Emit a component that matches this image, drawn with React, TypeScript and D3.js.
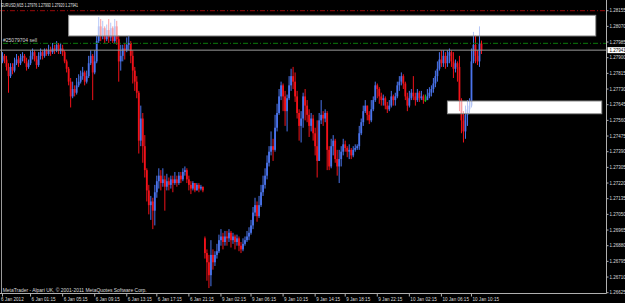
import React from "react";
import * as d3 from "d3";

// M15 bars (EURUSD), open = previous close except where listed in gapOpens
const closes = [
  1.2791, 1.2789, 1.2785, 1.2780, 1.2785, 1.2783, 1.2787, 1.2789, 1.2787, 1.2790,
  1.2791, 1.2788, 1.2785, 1.2787, 1.2791, 1.2793, 1.2789, 1.2786, 1.2791, 1.2793,
  1.2791, 1.2794, 1.2792, 1.2794, 1.2793, 1.2795, 1.2794, 1.2797, 1.2794, 1.2795,
  1.2793, 1.2788, 1.2784, 1.2777, 1.2769, 1.2773, 1.2771, 1.2775, 1.2777, 1.2780,
  1.2782, 1.2777, 1.2780, 1.2787, 1.2791, 1.2782, 1.2788, 1.2799, 1.2807, 1.2802,
  1.2806, 1.2800, 1.2805, 1.2801, 1.2806, 1.2799, 1.2807, 1.2800, 1.2788, 1.2791,
  1.2795, 1.2794, 1.2797, 1.2798, 1.2791, 1.2783, 1.2777, 1.2771, 1.2745, 1.2757,
  1.2742, 1.2729, 1.2718, 1.2710, 1.2712, 1.2707, 1.2717, 1.2723, 1.2726, 1.2722,
  1.2724, 1.2720, 1.2723, 1.2721, 1.2724, 1.2722, 1.2724, 1.2722, 1.2726, 1.2724,
  1.2728, 1.2729, 1.2724, 1.2721, 1.2719, 1.2722, 1.2718, 1.2721, 1.2719, 1.2720,
  1.2718, 1.2684, 1.2679, 1.2672, 1.2683, 1.2679, 1.2683, 1.2685, 1.2691, 1.2693,
  1.2690, 1.2693, 1.2692, 1.2695, 1.2691, 1.2693, 1.2690, 1.2692, 1.2688, 1.2686,
  1.2689, 1.2691, 1.2693, 1.2695, 1.2699, 1.2706, 1.2710, 1.2704, 1.2710, 1.2717,
  1.2721, 1.2726, 1.2733, 1.2739, 1.2742, 1.2740, 1.2752, 1.2760, 1.2769, 1.2775,
  1.2769, 1.2761, 1.2768, 1.2775, 1.2780, 1.2777, 1.2769, 1.2760, 1.2753, 1.2757,
  1.2769, 1.2764, 1.2759, 1.2753, 1.2757, 1.2749, 1.2742, 1.2734, 1.2756, 1.2759,
  1.2757, 1.2760, 1.2740, 1.2731, 1.2742, 1.2745, 1.2735, 1.2731, 1.2735, 1.2739,
  1.2743, 1.2741, 1.2739, 1.2740, 1.2737, 1.2740, 1.2741, 1.2742, 1.2749, 1.2755,
  1.2761, 1.2764, 1.2759, 1.2756, 1.2762, 1.2767, 1.2775, 1.2773, 1.2769, 1.2767,
  1.2768, 1.2764, 1.2762, 1.2764, 1.2769, 1.2767, 1.2769, 1.2775, 1.2777, 1.2780,
  1.2776, 1.2769, 1.2764, 1.2768, 1.2771, 1.2769, 1.2767, 1.2771, 1.2768, 1.2769,
  1.2767, 1.2767, 1.2769, 1.2771, 1.2773, 1.2776, 1.2780, 1.2784, 1.2789, 1.2787,
  1.2791, 1.2787, 1.2791, 1.2793, 1.2788, 1.2784, 1.2787, 1.2785, 1.2767, 1.2756,
  1.2750, 1.2759, 1.2762, 1.2764, 1.2788, 1.2797, 1.2791, 1.2788, 1.27976, 1.27941,
];

const highs = [
  1.2793, 1.2792, 1.2791, 1.2787, 1.2787, 1.2787, 1.2790, 1.2792, 1.2791, 1.2792,
  1.2793, 1.2792, 1.2790, 1.2789, 1.2794, 1.2795, 1.2794, 1.2791, 1.2793, 1.2795,
  1.2794, 1.2795, 1.2795, 1.2797, 1.2796, 1.2798, 1.2797, 1.2799, 1.2798, 1.2798,
  1.2797, 1.2794, 1.2789, 1.2785, 1.2779, 1.2777, 1.2775, 1.2779, 1.2781, 1.2783,
  1.2785, 1.2783, 1.2783, 1.2791, 1.2794, 1.2792, 1.2794, 1.2802, 1.2812, 1.2811,
  1.2810, 1.2807, 1.2808, 1.2811, 1.2809, 1.2807, 1.2811, 1.2810, 1.2802, 1.2797,
  1.2797, 1.2798, 1.2801, 1.2802, 1.2799, 1.2794, 1.2785, 1.2780, 1.2772, 1.2764,
  1.2760, 1.2748, 1.2730, 1.2721, 1.2715, 1.2714, 1.2721, 1.2726, 1.2730, 1.2729,
  1.2730, 1.2726, 1.2727, 1.2725, 1.2726, 1.2726, 1.2728, 1.2726, 1.2728, 1.2728,
  1.2730, 1.2731, 1.2730, 1.2726, 1.2723, 1.2723, 1.2722, 1.2722, 1.2722, 1.2721,
  1.2720, 1.2693, 1.2686, 1.2683, 1.2691, 1.2686, 1.2685, 1.2689, 1.2694, 1.2697,
  1.2695, 1.2696, 1.2696, 1.2697, 1.2696, 1.2695, 1.2694, 1.2694, 1.2693, 1.2690,
  1.2692, 1.2693, 1.2696, 1.2698, 1.2702, 1.2709, 1.2714, 1.2712, 1.2715, 1.2721,
  1.2726, 1.2730, 1.2737, 1.2742, 1.2750, 1.2746, 1.2759, 1.2765, 1.2773, 1.2777,
  1.2776, 1.2772, 1.2770, 1.2780, 1.2784, 1.2785, 1.2782, 1.2772, 1.2762, 1.2761,
  1.2771, 1.2773, 1.2767, 1.2762, 1.2760, 1.2759, 1.2752, 1.2756, 1.2760, 1.2767,
  1.2761, 1.2762, 1.2761, 1.2742, 1.2746, 1.2748, 1.2746, 1.2740, 1.2740, 1.2742,
  1.2746, 1.2745, 1.2742, 1.2743, 1.2741, 1.2742, 1.2743, 1.2743, 1.2753, 1.2757,
  1.2764, 1.2767, 1.2763, 1.2761, 1.2767, 1.2769, 1.2777, 1.2776, 1.2774, 1.2771,
  1.2770, 1.2769, 1.2766, 1.2767, 1.2772, 1.2770, 1.2771, 1.2777, 1.2780, 1.2782,
  1.2781, 1.2777, 1.2771, 1.2772, 1.2773, 1.2780, 1.2771, 1.2773, 1.2772, 1.2772,
  1.2770, 1.2770, 1.2773, 1.2774, 1.2775, 1.2779, 1.2783, 1.2788, 1.2793, 1.2794,
  1.2794, 1.2793, 1.2794, 1.2795, 1.2794, 1.2793, 1.2789, 1.2788, 1.2791, 1.2768,
  1.2761, 1.2764, 1.2767, 1.2768, 1.2795, 1.2804, 1.2802, 1.2794, 1.2807, 1.27993,
];

const lows = [
  1.2787, 1.2787, 1.2783, 1.2771, 1.2779, 1.2781, 1.2782, 1.2786, 1.2785, 1.2786,
  1.2788, 1.2787, 1.2783, 1.2784, 1.2786, 1.2789, 1.2788, 1.2784, 1.2785, 1.2789,
  1.2789, 1.2790, 1.2791, 1.2791, 1.2791, 1.2792, 1.2792, 1.2793, 1.2792, 1.2792,
  1.2791, 1.2787, 1.2782, 1.2775, 1.2763, 1.2768, 1.2769, 1.2770, 1.2774, 1.2776,
  1.2778, 1.2775, 1.2776, 1.2779, 1.2786, 1.2767, 1.2781, 1.2787, 1.2798, 1.2799,
  1.2800, 1.2798, 1.2799, 1.2798, 1.2799, 1.2798, 1.2798, 1.2797, 1.2777, 1.2783,
  1.2788, 1.2789, 1.2793, 1.2794, 1.2787, 1.2776, 1.2772, 1.2768, 1.2738, 1.2742,
  1.2733, 1.2725, 1.2712, 1.2705, 1.2702, 1.2697, 1.2699, 1.2714, 1.2719, 1.2718,
  1.2720, 1.2707, 1.2718, 1.2718, 1.2719, 1.2717, 1.2721, 1.2720, 1.2721, 1.2722,
  1.2723, 1.2726, 1.2722, 1.2718, 1.2716, 1.2718, 1.2717, 1.2718, 1.2717, 1.2718,
  1.2717, 1.2681, 1.2669, 1.2665, 1.2666, 1.2675, 1.2677, 1.2681, 1.2684, 1.2688,
  1.2686, 1.2688, 1.2688, 1.2690, 1.2687, 1.2689, 1.2686, 1.2688, 1.2685, 1.2684,
  1.2685, 1.2688, 1.2690, 1.2691, 1.2694, 1.2697, 1.2704, 1.2701, 1.2703, 1.2709,
  1.2715, 1.2719, 1.2724, 1.2731, 1.2737, 1.2734, 1.2739, 1.2750, 1.2759, 1.2767,
  1.2761, 1.2753, 1.2750, 1.2767, 1.2772, 1.2773, 1.2766, 1.2757, 1.2745, 1.2744,
  1.2752, 1.2756, 1.2755, 1.2747, 1.2750, 1.2745, 1.2737, 1.2725, 1.2740, 1.2754,
  1.2753, 1.2755, 1.2729, 1.2729, 1.2730, 1.2737, 1.2733, 1.2726, 1.2722, 1.2731,
  1.2737, 1.2739, 1.2736, 1.2735, 1.2735, 1.2736, 1.2739, 1.2740, 1.2740, 1.2748,
  1.2753, 1.2760, 1.2756, 1.2754, 1.2755, 1.2761, 1.2766, 1.2768, 1.2765, 1.2764,
  1.2764, 1.2762, 1.2760, 1.2761, 1.2763, 1.2764, 1.2764, 1.2768, 1.2772, 1.2775,
  1.2773, 1.2767, 1.2761, 1.2763, 1.2767, 1.2767, 1.2764, 1.2766, 1.2766, 1.2767,
  1.2765, 1.2766, 1.2767, 1.2768, 1.2769, 1.2771, 1.2774, 1.2777, 1.2783, 1.2785,
  1.2785, 1.2784, 1.2785, 1.2787, 1.2785, 1.2779, 1.2782, 1.2777, 1.2761, 1.2749,
  1.2744, 1.2746, 1.2753, 1.2760, 1.2763, 1.2787, 1.2787, 1.2786, 1.2785, 1.27920,
];

// [bar index, open price] for bars whose open is not the previous close
const gapOpens: [number, number][] = [[0, 1.2788], [101, 1.2692]];

const priceTicks = [
  "1.28155", "1.28070", "1.27985", "1.27900", "1.27815", "1.27730", "1.27645",
  "1.27560", "1.27475", "1.27390", "1.27305", "1.27220", "1.27135", "1.27050",
  "1.26965", "1.26880", "1.26795", "1.26710", "1.26625",
];

const timeLabels = [
  "6 Jan 2012", "6 Jan 01:15", "6 Jan 05:15", "6 Jan 09:15", "6 Jan 13:15",
  "6 Jan 17:15", "6 Jan 21:15", "9 Jan 02:15", "9 Jan 06:15", "9 Jan 10:15",
  "9 Jan 14:15", "9 Jan 18:15", "9 Jan 22:15", "10 Jan 02:15", "10 Jan 06:15",
  "10 Jan 10:15",
];
const timeLabelBars = [0, 14, 30, 46, 62, 77, 93, 109, 124, 140, 156, 171, 187, 203, 219, 234];

const titleText = "EURUSD,M15  1.27976 1.27993 1.27920 1.27941";
const orderText = "#25079704 sell";
const copyrightText = "MetaTrader - Alpari UK, \u00A9 2001-2011 MetaQuotes Software Corp.";

const stopLevel = 1.28155; // red dash-dot
const orderLevel = 1.27978; // green dash-dot
const bidPrice = 1.27941;

// rectangles: [fromBar, toBar, topPrice, bottomPrice]
const zones: [number, number, number, number][] = [
  [33, 296, 1.2813, 1.28018],
  [222, 299, 1.27665, 1.27596],
];

const W = 625;
const H = 303;
const FONT = "'Liberation Sans', Arial, sans-serif";

export default function App() {
  const n = closes.length;
  const x = d3.scaleLinear().domain([0, n - 1]).range([2.5, 481.5]);
  const y = d3.scaleLinear().domain([1.26625, 1.28155]).range([292.7, 10.7]);
  const axisX = 606.5;
  const axisY = 293.5;

  const gapMap = new Map(gapOpens);
  const bars = closes.map((c, i) => {
    const o = gapMap.has(i) ? (gapMap.get(i) as number) : closes[i - 1];
    const hi = Math.max(highs[i], o, c);
    const lo = Math.min(lows[i], o, c);
    const color = c > o ? "#4a74ec" : c < o ? "#f2121a" : "#22c022";
    return { i, o, c, hi, lo, color };
  });

  const zoneRects = zones.map(([a, b, t, btm], k) => ({
    k,
    x: x(a),
    w: x(b) - x(a),
    y: y(t),
    h: y(btm) - y(t),
  }));

  return (
    <svg
      width={W}
      height={H}
      style={{ position: "absolute", left: 0, top: 0, display: "block" }}
    >
      <rect x={0} y={0} width={W} height={H} fill="#000" />

      {zoneRects.map((z) => (
        <rect key={"z" + z.k} x={z.x} y={z.y} width={z.w} height={z.h} fill="#fff" />
      ))}

      {bars.map((b) => {
        const top = y(Math.max(b.o, b.c));
        const bh = Math.max(1, Math.abs(y(b.o) - y(b.c)));
        return (
          <g key={b.i}>
            <line
              x1={x(b.i)}
              x2={x(b.i)}
              y1={y(b.hi)}
              y2={y(b.lo)}
              stroke={b.color}
              strokeWidth={1}
            />
            <rect x={x(b.i) - 0.9} y={top} width={1.8} height={bh} fill={b.color} />
          </g>
        );
      })}

      {zoneRects.map((z) => (
        <rect
          key={"zo" + z.k}
          x={z.x}
          y={z.y}
          width={z.w}
          height={z.h}
          fill="#fff"
          fillOpacity={0.6}
          stroke="#8a8a8a"
          strokeWidth={1}
        />
      ))}

      {/* level lines */}
      <line x1={0} x2={axisX} y1={y(stopLevel)} y2={y(stopLevel)} stroke="#9a0a0a" strokeWidth={1} strokeDasharray="5,2,1,2" />
      <line x1={3} x2={axisX} y1={y(orderLevel)} y2={y(orderLevel)} stroke="#0a7a0a" strokeWidth={1} strokeDasharray="5,2,1,2" />
      <line x1={0} x2={axisX} y1={y(bidPrice)} y2={y(bidPrice)} stroke="#9a9a9a" strokeWidth={1} />

      {/* frame */}
      <line x1={1.5} x2={1.5} y1={0} y2={axisY} stroke="#9a9a9a" strokeWidth={1} />
      <line x1={axisX} x2={axisX} y1={0} y2={axisY} stroke="#b0b0b0" strokeWidth={1} />
      <line x1={0} x2={axisX} y1={axisY} y2={axisY} stroke="#b0b0b0" strokeWidth={1} />

      {/* price axis */}
      {priceTicks.map((t) => {
        const yy = y(+t);
        return (
          <g key={t}>
            <line x1={axisX} x2={axisX + 2} y1={yy} y2={yy} stroke="#b0b0b0" strokeWidth={1} />
            <text
              x={609.5}
              y={yy}
              dominantBaseline="central"
              fontFamily={FONT}
              fontSize={4.5}
              fill="#dcdcdc"
            >
              {t}
            </text>
          </g>
        );
      })}
      <rect x={607.5} y={y(bidPrice) - 3} width={17.5} height={6} fill="#fff" />
      <text
        x={609.5}
        y={y(bidPrice)}
        dominantBaseline="central"
        fontFamily={FONT}
        fontSize={4.5}
        fill="#000"
      >
        {bidPrice.toFixed(5)}
      </text>

      {/* time axis */}
      {timeLabels.map((t, k) => {
        const xx = x(timeLabelBars[k]);
        return (
          <g key={t}>
            <line x1={xx} x2={xx} y1={axisY} y2={axisY + 3} stroke="#b0b0b0" strokeWidth={1} />
            <text x={k === 0 ? 1 : xx + 1} y={300.5} fontFamily={FONT} fontSize={4.6} fill="#dcdcdc">
              {t}
            </text>
          </g>
        );
      })}

      {/* texts */}
      <text x={1} y={7.4} fontFamily={FONT} fontSize={5.2} fill="#e4e4e4" textLength={77} lengthAdjust="spacingAndGlyphs">
        {titleText}
      </text>
      <text x={3} y={42} fontFamily={FONT} fontSize={5} fill="#d4d4d4" textLength={34} lengthAdjust="spacingAndGlyphs">
        {orderText}
      </text>
      <text x={2.7} y={291.6} fontFamily={FONT} fontSize={5} fill="#dcdcdc" textLength={144} lengthAdjust="spacingAndGlyphs">
        {copyrightText}
      </text>
    </svg>
  );
}
